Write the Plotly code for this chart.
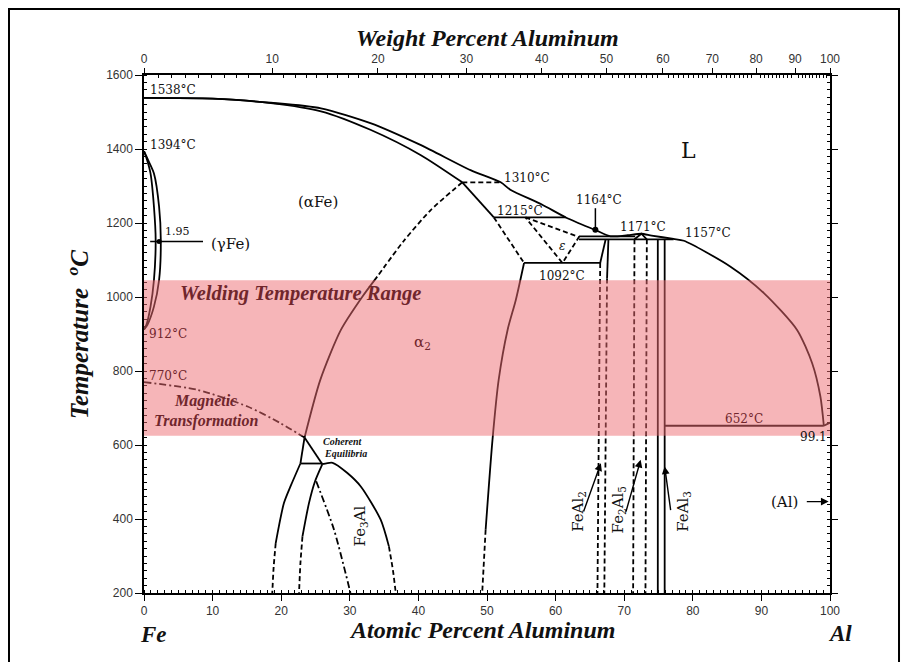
import plotly.graph_objects as go

# ---------------- data (atomic % Al, temperature degC) ----------------
at_ticks = [0, 10, 20, 30, 40, 50, 60, 70, 80, 90, 100]
temp_ticks = [200, 400, 600, 800, 1000, 1200, 1400, 1600]
wt_ticks = [0, 10, 20, 30, 40, 50, 60, 70, 80, 90, 100]
weld_range = [625, 1045]

liq_x = [0, 10, 18.5, 25.8, 33.0, 40.3, 47.6, 52.0, 53.4, 58.0, 61.5, 65.8, 68.0,
         70.5, 72.5, 74.0, 77.2, 78.7, 85.5, 90.4, 95.2, 97.4, 98.6, 99.1]
liq_T = [1538, 1536, 1525, 1510, 1470, 1411, 1343, 1310, 1290, 1250, 1215, 1181, 1164,
         1167, 1171, 1166, 1157, 1152, 1082, 1010, 911, 821, 731, 652]
al_end_x = [99.1, 100]
al_end_T = [652, 660.452]

sol_x = [0, 10, 18.5, 25.8, 33.0, 40.3, 46.4]
sol_T = [1538, 1536, 1524, 1502, 1452, 1384, 1310]

aeps_x = [46.4, 51.0]
aeps_T = [1310, 1215]
aeps_dash_x = [51.0, 55.4]
aeps_dash_T = [1215, 1092]

p1310_x = [46.4, 52.0]
p1310_T = [1310, 1310]
p1215_x = [51.0, 61.5]
p1215_T = [1215, 1215]
p1092_x = [55.4, 66.5]
p1092_T = [1092, 1092]
p1164_x = [63.4, 71.6]
p1164_T = [1164, 1164]
p1157_x = [63.4, 77.2]
p1157_T = [1156, 1156]
p652_x = [75.9, 99.1]
p652_T = [652, 652]

eps_x = [55.6, 63.4, 61.0, 55.6]
eps_T = [1215, 1162, 1092, 1215]

a2_dash_x = [46.4, 41.8, 37.8, 34.0]
a2_dash_T = [1310, 1235, 1150, 1055]
a2_x = [34.0, 31.8, 28.7, 25.7, 23.4]
a2_T = [1055, 1000, 911, 776, 620]

coh_v_x = [23.4, 22.8]
coh_v_T = [620, 550]
coh_d_x = [23.4, 26.0]
coh_d_T = [620, 548]
coh_h_x = [22.8, 26.0]
coh_h_T = [550, 550]

f3l_x = [22.8, 21.4, 20.4, 19.2]
f3l_T = [550, 490, 443, 335]
f3l_dash_x = [19.2, 18.9, 18.7]
f3l_dash_T = [335, 270, 200]
f3i_x = [26.0, 24.9, 24.05, 23.1]
f3i_T = [548, 500, 443, 353]
f3i_dash_x = [23.1, 22.8, 22.6]
f3i_dash_T = [353, 280, 200]
f3r_x = [26.0, 27.5, 29.6, 31.6, 34.5, 35.7]
f3r_T = [548, 552, 525, 488, 398, 326]
f3r_dash_x = [35.7, 36.3, 36.7]
f3r_dash_T = [326, 260, 200]
order_x = [25.1, 27.7, 30.1]
order_T = [502, 371, 200]

mag_x = [0, 7.8, 15.1, 19.9, 23.4]
mag_T = [770, 749, 704, 659, 620]

b2_x = [55.4, 54.2, 53.0, 51.7, 50.8, 49.8]
b2_T = [1092, 992, 911, 776, 614, 371]
b2_dash_x = [49.8, 49.3]
b2_dash_T = [371, 200]

feal2_l_x = [67.3, 66.6, 66.5]
feal2_l_T = [1156, 1100, 1092]
feal2_ld_x = [66.5, 66.1]
feal2_ld_T = [1092, 200]
feal2_r_x = [67.7, 67.5]
feal2_r_T = [1156, 1050]
feal2_rd_x = [67.5, 67.1]
feal2_rd_T = [1050, 200]

fe2al5_l_x = [71.5, 71.3]
fe2al5_l_T = [1156, 200]
fe2al5_r_x = [73.3, 73.1]
fe2al5_r_T = [1156, 200]
fe2al5_cap_x = [71.5, 72.5, 73.3]
fe2al5_cap_T = [1156, 1171, 1156]

feal3_l_x = [74.9, 74.9]
feal3_l_T = [1156, 200]
feal3_r_x = [75.9, 75.9]
feal3_r_T = [1156, 200]

g_out_x = [0, 0.6, 1.45, 2.2, 2.45, 2.2, 1.45, 0.5, 0]
g_in_x = [0, 0.45, 0.95, 1.45, 1.7, 1.45, 0.95, 0.35, 0]
g_T = [1394, 1370, 1334, 1244, 1154, 1046, 974, 925, 912]
g_line_x = [0.9, 8.6]
g_line_T = [1150, 1150]
g_mark_x = [2.2]
g_mark_T = [1150]

m1164_x = [65.8, 65.8]
m1164_T = [1240, 1182]

# ---------------- helpers ----------------
MAROON = "rgb(112,38,44)"
INK = "#111111"
DASH = "5px,3px"
DASHDOT = "7px,3px,2px,3px"


def wt_to_at(w):
    if w >= 100:
        return 100.0
    a = w / 26.98
    f = (100 - w) / 55.845
    return 100 * a / (a + f)


fig = go.Figure()


def line(x, y, dash=None, shape="linear", width=1.8):
    fig.add_trace(go.Scatter(
        x=x, y=y, mode="lines",
        line=dict(color="black", width=width, dash=dash, shape=shape, smoothing=0.7),
        hoverinfo="skip", showlegend=False))


line(liq_x, liq_T, shape="spline")
line(al_end_x, al_end_T)
line(sol_x, sol_T, shape="spline")
line(aeps_x, aeps_T)
line(aeps_dash_x, aeps_dash_T, dash=DASH)
line(p1310_x, p1310_T, dash=DASH)
line(p1215_x, p1215_T)
line(p1092_x, p1092_T)
line(p1164_x, p1164_T)
line(p1157_x, p1157_T)
line(p652_x, p652_T)
line(eps_x, eps_T, dash=DASH)
line(a2_dash_x, a2_dash_T, dash=DASH, shape="spline")
line(a2_x, a2_T, shape="spline")
line(coh_v_x, coh_v_T)
line(coh_d_x, coh_d_T)
line(coh_h_x, coh_h_T)
line(f3l_x, f3l_T, shape="spline")
line(f3l_dash_x, f3l_dash_T, dash=DASH, shape="spline")
line(f3i_x, f3i_T, shape="spline")
line(f3i_dash_x, f3i_dash_T, dash=DASH, shape="spline")
line(f3r_x, f3r_T, shape="spline")
line(f3r_dash_x, f3r_dash_T, dash=DASH, shape="spline")
line(order_x, order_T, dash=DASHDOT, shape="spline")
line(mag_x, mag_T, dash=DASHDOT, shape="spline")
line(b2_x, b2_T, shape="spline")
line(b2_dash_x, b2_dash_T, dash=DASH)
line(feal2_l_x, feal2_l_T)
line(feal2_ld_x, feal2_ld_T, dash=DASH)
line(feal2_r_x, feal2_r_T)
line(feal2_rd_x, feal2_rd_T, dash=DASH)
line(fe2al5_l_x, fe2al5_l_T, dash=DASH)
line(fe2al5_r_x, fe2al5_r_T, dash=DASH)
line(fe2al5_cap_x, fe2al5_cap_T)
line(feal3_l_x, feal3_l_T)
line(feal3_r_x, feal3_r_T)
line(g_out_x, g_T, shape="spline")
line(g_in_x, g_T, shape="spline")
line(g_line_x, g_line_T, width=1.5)
line(m1164_x, m1164_T, width=1.5)
fig.add_trace(go.Scatter(x=g_mark_x, y=g_mark_T, mode="markers",
                         marker=dict(color="black", size=5), hoverinfo="skip", showlegend=False))
fig.add_trace(go.Scatter(x=m1164_x[1:], y=m1164_T[1:], mode="markers",
                         marker=dict(color="black", size=6), hoverinfo="skip", showlegend=False))
# invisible traces to anchor the overlay axes
fig.add_trace(go.Scatter(x=[0], y=[200], xaxis="x2", yaxis="y2", mode="markers",
                         marker=dict(opacity=0), hoverinfo="skip", showlegend=False))
fig.add_trace(go.Scatter(x=[0], y=[200], xaxis="x3", yaxis="y", mode="markers",
                         marker=dict(opacity=0), hoverinfo="skip", showlegend=False))

# ---------------- annotations ----------------
ann = []


def lab(x, y, text, size=12, color=INK, xanchor="center", family="DejaVu Serif",
        angle=0, xref="x", yref="y"):
    ann.append(dict(x=x, y=y, xref=xref, yref=yref, text=text, showarrow=False,
                    xanchor=xanchor, yanchor="middle", textangle=angle,
                    font=dict(family=family, size=size, color=color)))


SERIF_B = "Liberation Serif"
lab(0.6, 1560, "1538°C", xanchor="left")
lab(0.6, 1410, "1394°C", xanchor="left")
lab(0.5, 900, "912°C", xanchor="left", color=MAROON)
lab(0.4, 787, "770°C", xanchor="left", color=MAROON)
lab(2.8, 1177, "1.95", size=11, xanchor="left")
lab(12.6, 1142, "(γFe)", size=15)
lab(25.3, 1258, "(αFe)", size=15)
lab(79.4, 1397, "L", size=22)
lab(52.2, 1322, "1310°C", xanchor="left")
lab(51.2, 1232, "1215°C", xanchor="left")
lab(66.3, 1261, "1164°C")
lab(72.8, 1188, "1171°C")
lab(78.5, 1172, "1157°C", xanchor="left")
lab(61.0, 1057, "1092°C")
lab(61.0, 1137, "<i>ε</i>", size=12)
lab(4.9, 1010, "<b><i>Welding Temperature Range</i></b>", size=20.5, xanchor="left",
    family=SERIF_B, color=MAROON)
lab(40.6, 878, "α<sub>2</sub>", size=15, color=MAROON)
lab(9.0, 718, "<b><i>Magnetic</i></b>", size=16, family=SERIF_B, color=MAROON)
lab(9.1, 666, "<b><i>Transformation</i></b>", size=16, family=SERIF_B, color=MAROON)
lab(29.0, 609, "<b><i>Coherent</i></b>", size=10, family=SERIF_B)
lab(29.3, 578, "<b><i>Equilibria</i></b>", size=10, family=SERIF_B)
lab(31.6, 382, "Fe<sub>3</sub>Al", size=15, angle=-90)
lab(63.3, 420, "FeAl<sub>2</sub>", size=15, angle=-90)
lab(69.2, 425, "Fe<sub>2</sub>Al<sub>5</sub>", size=15, angle=-90)
lab(78.6, 420, "FeAl<sub>3</sub>", size=15, angle=-90)
lab(93.4, 447, "(Al)", size=15)
lab(87.5, 670, "652°C", color=MAROON)
lab(99.9, 621, "99.1", xanchor="right")
lab(100.9, 671, "660.452°C", xanchor="left")

# pointer arrows (tail -> head)
arrows = [((64.0, 416), (66.6, 551)), ((70.2, 416), (72.4, 560)),
          ((76.8, 420), (75.9, 542)), ((96.4, 447), (99.8, 447))]
for (tx, ty), (hx, hy) in arrows:
    ann.append(dict(x=hx, y=hy, ax=tx, ay=ty, xref="x", yref="y", axref="x", ayref="y",
                    text="", showarrow=True, arrowhead=2, arrowsize=1.1, arrowwidth=1.4,
                    arrowcolor="black", standoff=0, startstandoff=0))

# axis titles and element symbols (paper coords relative to the plot area)
lab(0.5007, 1.0714, "<b><i>Weight Percent Aluminum</i></b>", size=24, family=SERIF_B,
    xref="paper", yref="paper")
lab(0.4927, -0.072, "<b><i>Atomic Percent Aluminum</i></b>", size=24, family=SERIF_B,
    xref="paper", yref="paper")
lab(-0.0962, 0.498, "<b><i>Temperature  <sup>o</sup>C</i></b>", size=25, family=SERIF_B,
    xref="paper", yref="paper", angle=-90)
lab(0.0135, -0.08, "<b><i>Fe</i></b>", size=23, family=SERIF_B, xref="paper", yref="paper")
lab(1.0146, -0.078, "<b><i>Al</i></b>", size=23, family=SERIF_B, xref="paper", yref="paper")

# ---------------- shapes ----------------
shapes = [
    dict(type="rect", xref="x", yref="y", x0=at_ticks[0], x1=at_ticks[-1],
         y0=weld_range[0], y1=weld_range[1], fillcolor="rgb(238,108,114)", opacity=0.5,
         line=dict(width=0), layer="above"),
    dict(type="rect", xref="paper", yref="paper", x0=-0.1968, x1=1.1006, y0=-0.2, y1=1.1274,
         line=dict(color="black", width=2), fillcolor="rgba(0,0,0,0)", layer="below"),
]

tickfont = dict(family="Liberation Sans", size=12, color="#333333")
wt_vals = [wt_to_at(w) for w in wt_ticks]
wt_minor = [wt_to_at(w) for w in range(0, 100) if w % 10 != 0]

fig.update_layout(
    width=901, height=654,
    margin=dict(l=136, r=79, t=67, b=69),
    paper_bgcolor="white", plot_bgcolor="white",
    showlegend=False,
    annotations=ann, shapes=shapes,
    xaxis=dict(range=[0, 100], tickmode="array", tickvals=at_ticks,
               ticktext=[str(v) for v in at_ticks], ticks="outside", ticklen=6,
               tickwidth=1.2, tickcolor="black", tickfont=tickfont,
               showline=True, linecolor="black", linewidth=1.5,
               showgrid=False, zeroline=False,
               minor=dict(dtick=1, tick0=0, ticks="inside", ticklen=3, tickwidth=1,
                          tickcolor="black", showgrid=False)),
    xaxis2=dict(range=[0, 100], overlaying="x", side="top", anchor="y",
                tickmode="array", tickvals=wt_vals, ticktext=[str(v) for v in wt_ticks],
                ticks="outside", ticklen=5, tickwidth=1.2, tickcolor="black",
                tickfont=tickfont, showline=True, linecolor="black", linewidth=1.5,
                showgrid=False, zeroline=False),
    xaxis3=dict(range=[0, 100], overlaying="x", side="top", anchor="y",
                tickmode="array", tickvals=wt_minor, ticks="inside", ticklen=3,
                tickwidth=1, tickcolor="black", showticklabels=False,
                showline=False, showgrid=False, zeroline=False),
    yaxis=dict(range=[200, 1600], tickmode="array", tickvals=temp_ticks,
               ticks="outside", ticklen=7, tickwidth=1.2, tickcolor="black",
               tickfont=tickfont, showline=True, linecolor="black", linewidth=1.5,
               showgrid=False, zeroline=False,
               minor=dict(dtick=20, tick0=200, ticks="inside", ticklen=3, tickwidth=1,
                          tickcolor="black", showgrid=False)),
    yaxis2=dict(range=[200, 1600], overlaying="y", side="right", anchor="x",
                tickmode="array", tickvals=temp_ticks, ticks="outside", ticklen=6,
                tickwidth=1.2, tickcolor="black", showticklabels=False,
                showline=True, linecolor="black", linewidth=1.5,
                showgrid=False, zeroline=False,
                minor=dict(dtick=20, tick0=200, ticks="inside", ticklen=3, tickwidth=1,
                           tickcolor="black", showgrid=False)),
)

fig.write_html("out.html")
